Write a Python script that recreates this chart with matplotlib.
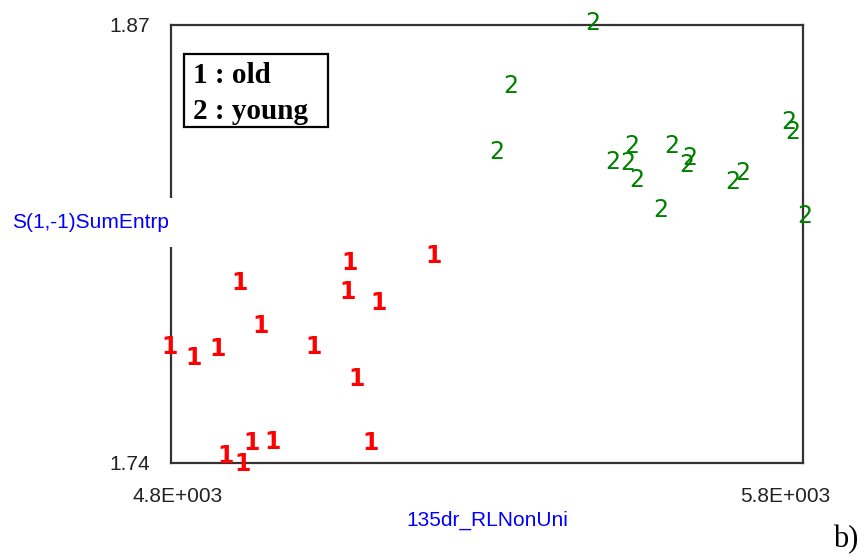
import numpy as np
import matplotlib.pyplot as plt
from matplotlib.patches import Rectangle
from matplotlib.transforms import ScaledTranslation

# class 1 = old, class 2 = young
old_x = [5082, 5215, 4908, 5080, 5129, 4942, 4797, 4835, 4873, 5025, 5094, 4887, 4914, 4928, 4961, 5116]
old_y = [1.7994, 1.8014, 1.7934, 1.7908, 1.7875, 1.7807, 1.7744, 1.7712,
         1.7738, 1.7744, 1.7649, 1.7421, 1.7397, 1.7459, 1.7462, 1.7459]

young_x = [5468, 5338, 5316, 5499, 5523, 5529, 5537, 5593, 5616, 5621, 5575, 5689, 5705, 5778, 5784, 5803]
young_y = [1.8706, 1.8519, 1.8323, 1.8293, 1.8290, 1.8341, 1.8240, 1.8341,
           1.8284, 1.8305, 1.8151, 1.8234, 1.8261, 1.8412, 1.8382, 1.8133]

x_ticks = [4800, 5800]
x_ticklabels = ["4.8E+003", "5.8E+003"]
y_ticks = [1.74, 1.87]
y_ticklabels = ["1.74", "1.87"]

W, H = 866, 557
fig = plt.figure(figsize=(W / 100, H / 100), dpi=100)
ax = fig.add_axes([171 / W, 1 - 463 / H, (803 - 171) / W, (463 - 25) / H])

for s in ax.spines.values():
    s.set_color("#333333")
    s.set_linewidth(1.6)

ax.set_xlim(x_ticks)
ax.set_ylim(y_ticks)
ax.set_xticks(x_ticks)
ax.set_xticklabels(x_ticklabels)
ax.set_yticks(y_ticks)
ax.set_yticklabels(y_ticklabels)
ax.tick_params(length=0, labelsize=15, labelcolor="#222222")
ax.tick_params(axis="x", pad=17)
ax.tick_params(axis="y", pad=15)
for lab in ax.get_xticklabels() + ax.get_yticklabels():
    lab.set_fontfamily("Liberation Sans")
# the x tick labels sit a little off the axis ends
xl = ax.get_xticklabels()
xl[0].set_transform(xl[0].get_transform() + ScaledTranslation(0.07, 0, fig.dpi_scale_trans))
xl[1].set_transform(xl[1].get_transform() + ScaledTranslation(-0.18, 0, fig.dpi_scale_trans))

for x, y in zip(old_x, old_y):
    ax.text(x, y, "1", color="#ff0000", fontsize=17, fontweight="bold",
            ha="center", va="center", zorder=5)
for x, y in zip(young_x, young_y):
    ax.text(x, y, "2", color="#008000", fontsize=17,
            ha="center", va="center", zorder=5)

# legend box
fig.patches.append(Rectangle((184 / W, 1 - 127 / H), 144 / W, 73 / H,
                             transform=fig.transFigure, fc="white", ec="black",
                             lw=1.6, zorder=3))
fig.text(193 / W, 1 - 83 / H, "1 : old", family="Liberation Serif",
         fontweight="bold", fontsize=21, ha="left", va="baseline", zorder=4)
fig.text(193 / W, 1 - 119 / H, "2 : young", family="Liberation Serif",
         fontweight="bold", fontsize=21, ha="left", va="baseline", zorder=4)

ax.set_xlabel("135dr_RLNonUni", color="#0000ff", fontsize=15, family="Liberation Sans")
ax.xaxis.set_label_coords(0.5, -0.11)

# white patch that hides the spine behind the y label
fig.patches.append(Rectangle((62 / W, 1 - 247 / H), 121 / W, 49 / H,
                             transform=fig.transFigure, fc="white", ec="none", zorder=3))
fig.text(12 / W, 1 - 222 / H, "S(1,-1)SumEntrp", color="#0000ff", fontsize=15,
         family="Liberation Sans", ha="left", va="center", zorder=4)

fig.text(846 / W, 1 - 540 / H, "b)", family="Liberation Serif", fontsize=22,
         ha="center", va="center")

fig.savefig("out.png", dpi=100)
